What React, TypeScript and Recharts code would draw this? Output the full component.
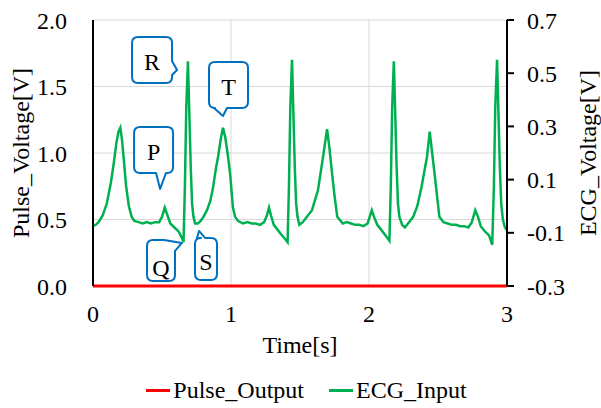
import React from 'react';
import {
  LineChart, Line, XAxis, YAxis, CartesianGrid, Legend, ReferenceDot,
} from 'recharts';

// ECG trace, time [s] and ECG voltage [V] (right axis)
const ECG_TIME = [
  0, 0.02, 0.04, 0.07, 0.1, 0.13, 0.15, 0.17, 0.185, 0.198,
  0.21, 0.225, 0.24, 0.26, 0.28, 0.3, 0.33, 0.36, 0.39, 0.42,
  0.45, 0.48, 0.5, 0.52, 0.54, 0.56, 0.59, 0.62, 0.645, 0.656,
  0.666, 0.676, 0.688, 0.698, 0.708, 0.718, 0.728, 0.74, 0.76, 0.78,
  0.8, 0.826, 0.85, 0.87, 0.89, 0.906, 0.925, 0.942, 0.958, 0.975,
  0.993, 1.014, 1.03, 1.05, 1.087, 1.12, 1.15, 1.18, 1.21, 1.24,
  1.26, 1.275, 1.29, 1.31, 1.34, 1.37, 1.395, 1.41, 1.42, 1.43,
  1.442, 1.452, 1.462, 1.472, 1.482, 1.495, 1.52, 1.55, 1.587, 1.63,
  1.667, 1.696, 1.712, 1.73, 1.75, 1.77, 1.81, 1.84, 1.87, 1.9,
  1.93, 1.96, 1.99, 2.005, 2.02, 2.04, 2.06, 2.09, 2.12, 2.148,
  2.158, 2.168, 2.18, 2.19, 2.2, 2.21, 2.22, 2.24, 2.26, 2.29,
  2.32, 2.35, 2.38, 2.42, 2.44, 2.46, 2.48, 2.51, 2.54, 2.57,
  2.6, 2.63, 2.66, 2.69, 2.72, 2.745, 2.77, 2.79, 2.81, 2.84,
  2.87, 2.893, 2.905, 2.915, 2.928, 2.938, 2.948, 2.958, 2.97, 2.985,
  3,
];
const ECG_VOLTAGE = [
  -0.075, -0.07, -0.06, -0.035, 0.01, 0.09, 0.16, 0.24, 0.28, 0.295,
  0.25, 0.165, 0.075, 0, -0.04, -0.055, -0.06, -0.065, -0.06, -0.065,
  -0.06, -0.06, -0.04, -0.005, -0.035, -0.065, -0.08, -0.095, -0.12, -0.135,
  0.075, 0.375, 0.545, 0.35, 0.15, 0.01, -0.04, -0.065, -0.065, -0.055,
  -0.04, -0.015, 0.02, 0.07, 0.14, 0.185, 0.25, 0.295, 0.26, 0.2,
  0.125, -0.005, -0.04, -0.055, -0.065, -0.06, -0.065, -0.065, -0.07, -0.06,
  -0.035, -0.005, -0.035, -0.07, -0.09, -0.11, -0.125, -0.135, 0.075, 0.375,
  0.55, 0.35, 0.15, 0.01, -0.04, -0.07, -0.06, -0.04, -0.015, 0.06,
  0.185, 0.29, 0.225, 0.135, 0.04, -0.04, -0.065, -0.06, -0.065, -0.07,
  -0.07, -0.075, -0.065, -0.04, -0.015, -0.045, -0.07, -0.09, -0.11, -0.13,
  0.075, 0.375, 0.545, 0.35, 0.15, 0.01, -0.04, -0.07, -0.08, -0.06,
  -0.04, 0, 0.07, 0.185, 0.28, 0.19, 0.1, -0.04, -0.06, -0.065,
  -0.07, -0.07, -0.075, -0.075, -0.08, -0.06, -0.015, -0.04, -0.075, -0.095,
  -0.11, -0.145, 0.075, 0.375, 0.55, 0.35, 0.15, 0.01, -0.05, -0.08,
  -0.09,
];

// pulse output stays at 0 V over the whole record
const PULSE_TIME = [0, 3];
const PULSE_VOLTAGE = [0, 0];

const SERIES_NAMES = ['Pulse_Output', 'ECG_Input'];
const TIME_TICKS = [0, 1, 2, 3];
const PULSE_TICKS = [0, 0.5, 1, 1.5, 2];
const ECG_TICKS = [-0.3, -0.1, 0.1, 0.3, 0.5, 0.7];

// wave callouts: label, and the point the tail points at (time, ECG voltage)
const WAVE_LABELS = ['R', 'T', 'P', 'Q', 'S'];
const WAVE_TIME = [0.609, 0.942, 0.486, 0.645, 0.768];
const WAVE_ECG = [0.512, 0.339, 0.065, -0.138, -0.093];

// box geometry of each callout, relative to the tail tip (pixels)
const CALLOUT_STYLE: Record<string, any> = {
  R: { dx: -45, dy: -33, w: 40, h: 46, side: 'right', a: 24, b: 38, ty: 2 },
  T: { dx: -14, dy: -54, w: 39, h: 46, side: 'bottom', a: 5, b: 18, ty: 2 },
  P: { dx: -26, dy: -62, w: 39, h: 46, side: 'bottom', a: 22, b: 32, ty: 2 },
  Q: { dx: -35, dy: -3, w: 28, h: 41, side: 'tr', a: 17, b: 11, ty: 8 },
  S: { dx: -4, dy: 7, w: 22, h: 42, side: 'top', a: 2, b: 10, ty: 3 },
};

const FONT = 'Liberation Serif';
const FONT_SIZE = 24;
const BLUE = '#0070c0';

const ecgData = ECG_TIME.map((t, i) => ({ t, v: ECG_VOLTAGE[i] }));
const pulseData = PULSE_TIME.map((t, i) => ({ t, v: PULSE_VOLTAGE[i] }));

function calloutPath(x: number, y: number, w: number, h: number, s: any, tx: number, ty: number) {
  const r = 6;
  let d = `M${x + r},${y}`;
  if (s.side === 'top') d += ` L${x + s.a},${y} L${tx},${ty} L${x + s.b},${y}`;
  if (s.side === 'tr') {
    d += ` L${x + s.a},${y} L${tx},${ty} L${x + w},${y + s.b}`;
  } else {
    d += ` L${x + w - r},${y} Q${x + w},${y} ${x + w},${y + r}`;
  }
  if (s.side === 'right') d += ` L${x + w},${y + s.a} L${tx},${ty} L${x + w},${y + s.b}`;
  d += ` L${x + w},${y + h - r} Q${x + w},${y + h} ${x + w - r},${y + h}`;
  if (s.side === 'bottom') d += ` L${x + s.b},${y + h} L${tx},${ty} L${x + s.a},${y + h}`;
  d += ` L${x + r},${y + h} Q${x},${y + h} ${x},${y + h - r} L${x},${y + r} Q${x},${y} ${x + r},${y} Z`;
  return d;
}

function Callout({ cx, cy, label }: { cx?: number; cy?: number; label: string }) {
  if (cx == null || cy == null) return null;
  const s = CALLOUT_STYLE[label];
  const x = cx + s.dx;
  const y = cy + s.dy;
  return (
    <g>
      <path d={calloutPath(x, y, s.w, s.h, s, cx, cy)} fill="#fff" stroke={BLUE} strokeWidth={2} strokeLinejoin="round" />
      <text
        x={x + s.w / 2}
        y={y + s.h / 2 + s.ty}
        textAnchor="middle"
        dominantBaseline="central"
        fontFamily={FONT}
        fontSize={FONT_SIZE}
        fill="#000"
      >
        {label}
      </text>
    </g>
  );
}

// tick text drawn directly so the serif face is used
function AxisTick(props: any) {
  const { x, y, payload, textAnchor, verticalAnchor, digits } = props;
  const value = digits == null ? String(payload.value) : Number(payload.value).toFixed(digits);
  return (
    <text
      x={x}
      y={y}
      dy={verticalAnchor === 'start' ? '0.71em' : '0.355em'}
      textAnchor={textAnchor}
      fontFamily={FONT}
      fontSize={FONT_SIZE}
      fill="#000"
    >
      {value}
    </text>
  );
}

function renderLegend(props: any) {
  const items = [...(props.payload || [])].sort(
    (a: any, b: any) => SERIES_NAMES.indexOf(a.value) - SERIES_NAMES.indexOf(b.value),
  );
  return (
    <div style={{ display: 'flex', justifyContent: 'center', alignItems: 'center', height: 36, paddingLeft: 12, fontFamily: FONT, fontSize: FONT_SIZE, color: '#000' }}>
      {items.map((entry: any, i: number) => (
        <div key={entry.value} style={{ display: 'flex', alignItems: 'center', marginLeft: i > 0 ? 25 : 0 }}>
          <span style={{ display: 'inline-block', width: 24, height: 3, background: entry.color, marginRight: 3 }} />
          <span>{entry.value}</span>
        </div>
      ))}
    </div>
  );
}

const labelStyle = { fontSize: FONT_SIZE, fill: '#000', fontFamily: FONT };

export default function App() {
  return (
    <div style={{ position: 'absolute', left: 0, top: 0, background: '#fff', fontFamily: FONT }}>
      <LineChart width={601} height={408} margin={{ top: 20, right: 0, bottom: 0, left: 0 }}>
        <CartesianGrid yAxisId="left" stroke="#d9d9d9" strokeWidth={1} />
        <XAxis
          dataKey="t"
          type="number"
          domain={[0, 3]}
          ticks={TIME_TICKS}
          height={86}
          tickLine={false}
          tickMargin={13}
          axisLine={false}
          tick={<AxisTick />}
          label={{ value: 'Time[s]', position: 'insideTop', offset: 50, ...labelStyle }}
        />
        <YAxis
          yAxisId="left"
          orientation="left"
          width={93}
          domain={[0, 2]}
          ticks={PULSE_TICKS}
          tickLine={false}
          tickSize={6}
          tickMargin={20}
          axisLine={{ stroke: '#000', strokeWidth: 2 }}
          tick={<AxisTick digits={1} />}
          label={{ value: 'Pulse_Voltage[V]', angle: -90, position: 'insideLeft', offset: 20, ...labelStyle, style: { textAnchor: 'middle' } }}
        />
        <YAxis
          yAxisId="right"
          orientation="right"
          width={94}
          domain={[-0.3, 0.7]}
          ticks={ECG_TICKS}
          tickLine={{ stroke: '#000', strokeWidth: 2 }}
          tickSize={7}
          tickMargin={13}
          axisLine={{ stroke: '#000', strokeWidth: 2 }}
          tick={<AxisTick digits={1} />}
          label={{ value: 'ECG_Voltage[V]', angle: -90, position: 'insideRight', offset: 14, ...labelStyle, style: { textAnchor: 'middle' } }}
        />
        <Legend verticalAlign="bottom" height={36} content={renderLegend} />
        <Line
          data={ecgData}
          dataKey="v"
          yAxisId="right"
          name="ECG_Input"
          type="linear"
          stroke="#00b050"
          strokeWidth={2.5}
          dot={false}
          isAnimationActive={false}
        />
        <Line
          data={pulseData}
          dataKey="v"
          yAxisId="left"
          name="Pulse_Output"
          type="linear"
          stroke="#ff0000"
          strokeWidth={3}
          dot={false}
          isAnimationActive={false}
        />
        {WAVE_LABELS.map((label, i) => (
          <ReferenceDot
            key={label}
            yAxisId="right"
            x={WAVE_TIME[i]}
            y={WAVE_ECG[i]}
            ifOverflow="visible"
            shape={(p: any) => <Callout cx={p.cx} cy={p.cy} label={label} />}
          />
        ))}
      </LineChart>
    </div>
  );
}
